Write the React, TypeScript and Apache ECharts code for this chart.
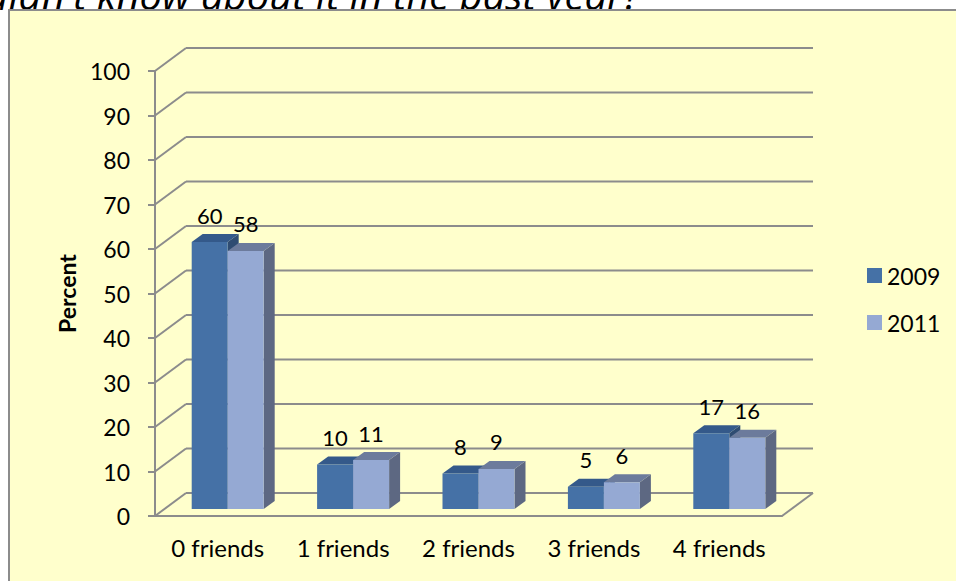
import React, { useEffect, useRef } from "react";
import * as echarts from "echarts";

const categories = ["0 friends", "1 friends", "2 friends", "3 friends", "4 friends"];
const values2009 = [60, 10, 8, 5, 17];
const values2011 = [58, 11, 9, 6, 16];
const yTicks = [0, 10, 20, 30, 40, 50, 60, 70, 80, 90, 100];
const seriesNames = ["2009", "2011"];
const titleText = "didn't know about it in the past year?";

const DX = 31;
const DY = -23;
const GRID_COLOR = "#8c8c8c";
const FONT = "Lato, 'Open Sans', sans-serif";

const barColors = [
  { front: "#4571a6", top: "#34598a", side: "#2f4c72" },
  { front: "#95a9d3", top: "#6c7b9c", side: "#5d6882" },
];

export default function App() {
  const ref = useRef<HTMLDivElement>(null);

  useEffect(() => {
    if (!ref.current) return;
    const chart = echarts.init(ref.current, undefined, { renderer: "svg" });

    const frameRender = (params: any, api: any) => {
      const v = api.value(1);
      const cs = params.coordSys;
      const x0 = cs.x;
      const x1 = cs.x + cs.width;
      const y = api.coord([0, v])[1];
      const children: any[] = [
        {
          type: "line",
          shape: { x1: x0, y1: y, x2: x0 + DX, y2: y + DY },
          style: { stroke: GRID_COLOR, lineWidth: 2 },
        },
        {
          type: "line",
          shape: { x1: x0 + DX, y1: y + DY, x2: x1 + DX, y2: y + DY },
          style: { stroke: GRID_COLOR, lineWidth: 2 },
        },
      ];
      if (v === 0) {
        children.push({
          type: "line",
          shape: { x1: x1, y1: y, x2: x1 + DX, y2: y + DY },
          style: { stroke: GRID_COLOR, lineWidth: 2 },
        });
      }
      return { type: "group", children };
    };

    const makeBarRender = (s: number) => (params: any, api: any) => {
      const idx = api.value(0);
      const v = api.value(1);
      const base = api.coord([idx, 0]);
      const topP = api.coord([idx, v]);
      const c = base[0];
      const bw = 36;
      const xl = c - 26 + s * bw;
      const xr = xl + bw;
      const yb = base[1] - 7;
      const yt = topP[1] - 7;
      const ddx = 11;
      const ddy = -8;
      const col = barColors[s];
      return {
        type: "group",
        children: [
          {
            type: "polygon",
            shape: { points: [[xr, yb], [xr + ddx, yb + ddy], [xr + ddx, yt + ddy], [xr, yt]] },
            style: { fill: col.side },
          },
          {
            type: "polygon",
            shape: { points: [[xl, yt], [xl + ddx, yt + ddy], [xr + ddx, yt + ddy], [xr, yt]] },
            style: { fill: col.top },
          },
          {
            type: "rect",
            shape: { x: xl, y: yt, width: bw, height: yb - yt },
            style: { fill: col.front },
          },
          {
            type: "text",
            style: {
              text: String(v),
              x: (xl + xr) / 2,
              y: yt - 27,
              textAlign: "center",
              textVerticalAlign: "middle",
              font: `22px ${FONT}`,
              fill: "#000",
            },
          },
        ],
      };
    };

    chart.setOption({
      animation: false,
      backgroundColor: "#ffffff",
      graphic: [
        {
          type: "rect",
          shape: { x: 9, y: 10, width: 1000, height: 620 },
          style: { fill: "#ffffcc", stroke: "#8c8c8c", lineWidth: 2 },
          z: -10,
        },
        {
          type: "text",
          x: 640,
          y: -6,
          z: -20,
          style: {
            text: titleText,
            textAlign: "right",
            textVerticalAlign: "middle",
            font: `italic 40px 'Open Sans', sans-serif`,
            fill: "#000",
          },
        },
      ],
      grid: { left: 155, top: 71, width: 627, height: 445 },
      legend: {
        orient: "vertical",
        left: 862,
        top: 259,
        itemWidth: 15,
        itemHeight: 15,
        itemGap: 24,
        icon: "rect",
        data: seriesNames,
        textStyle: { fontSize: 23, fontFamily: FONT, color: "#000" },
      },
      xAxis: {
        type: "category",
        data: categories,
        axisLine: { show: true, lineStyle: { color: GRID_COLOR, width: 2 } },
        axisTick: { show: false },
        axisLabel: { margin: 19, fontSize: 24, fontFamily: FONT, color: "#000" },
      },
      yAxis: {
        type: "value",
        min: 0,
        max: 100,
        interval: 10,
        name: "Percent",
        nameLocation: "middle",
        nameGap: 77,
        nameRotate: 90,
        nameTextStyle: { fontSize: 23, fontWeight: "bold", fontFamily: FONT, color: "#000" },
        axisLine: { show: true, lineStyle: { color: GRID_COLOR, width: 2 } },
        axisTick: { show: true, length: 7, lineStyle: { color: GRID_COLOR, width: 2 } },
        splitLine: { show: false },
        axisLabel: { margin: 25, fontSize: 23, fontFamily: FONT, color: "#000" },
      },
      series: [
        {
          type: "custom",
          name: "frame",
          renderItem: frameRender,
          data: yTicks.map((v) => [0, v]),
          encode: { x: 0, y: 1 },
          z: 1,
          silent: true,
        },
        {
          type: "custom",
          name: seriesNames[0],
          renderItem: makeBarRender(0),
          data: values2009.map((v, i) => [i, v]),
          encode: { x: 0, y: 1 },
          itemStyle: { color: barColors[0].front },
          z: 2,
        },
        {
          type: "custom",
          name: seriesNames[1],
          renderItem: makeBarRender(1),
          data: values2011.map((v, i) => [i, v]),
          encode: { x: 0, y: 1 },
          itemStyle: { color: barColors[1].front },
          z: 3,
        },
      ],
    });

    return () => chart.dispose();
  }, []);

  return (
    <div
      ref={ref}
      style={{ position: "fixed", left: 0, top: 0, width: 956, height: 581 }}
    />
  );
}
